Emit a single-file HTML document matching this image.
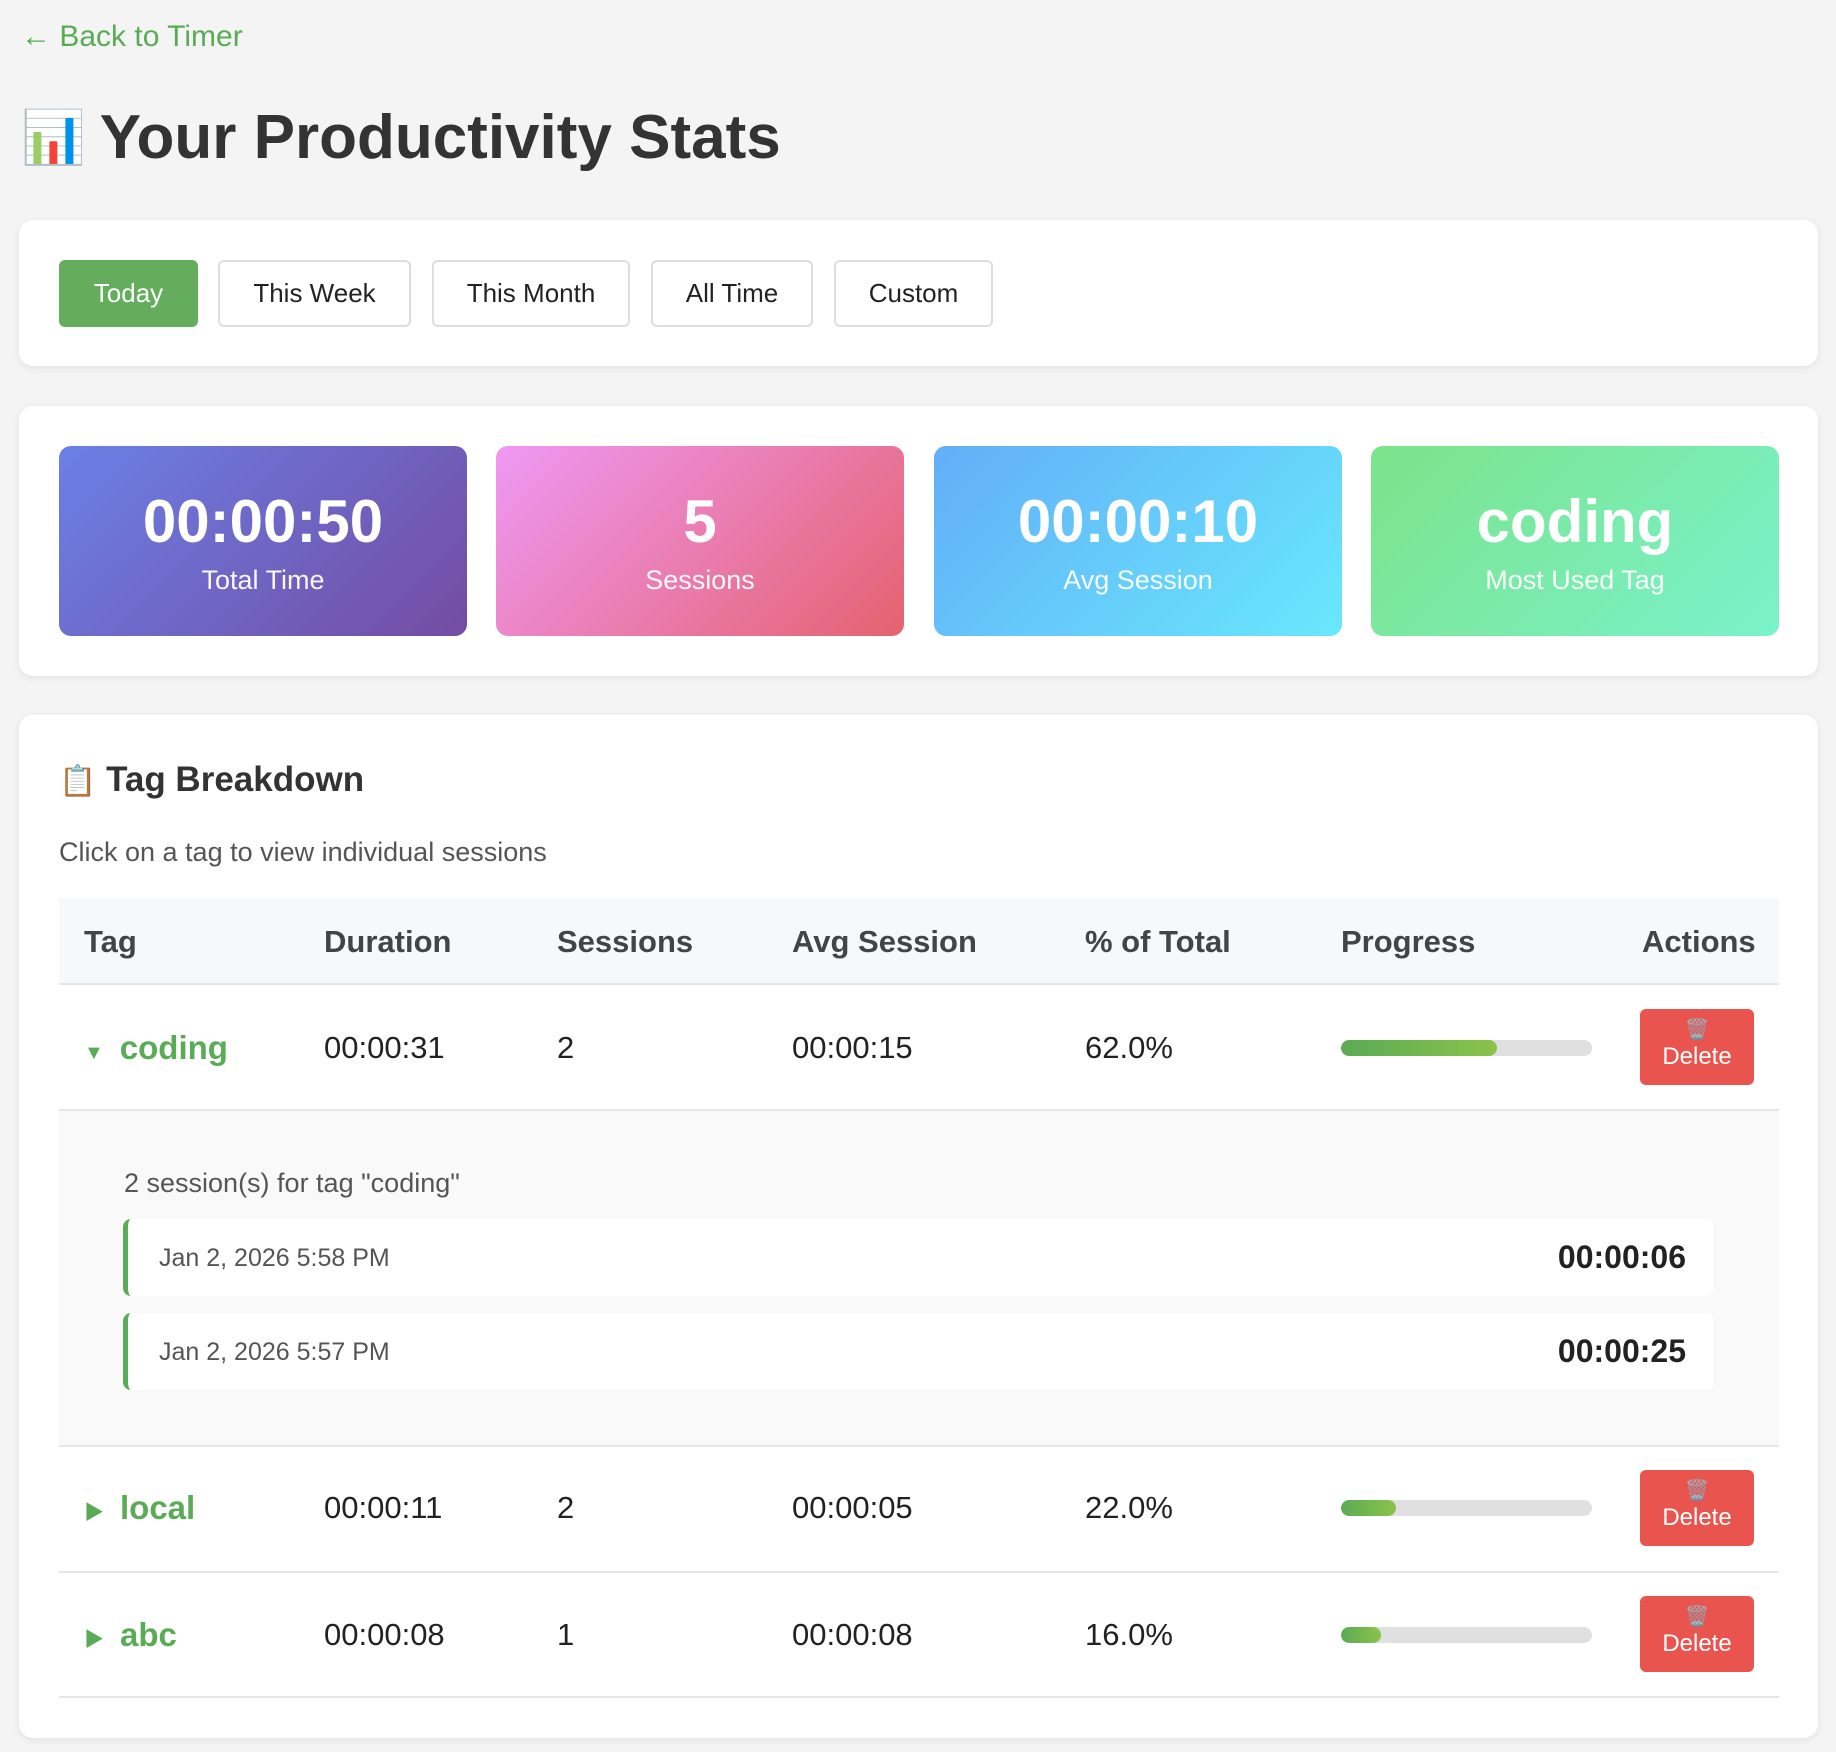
<!DOCTYPE html>
<html><head><meta charset="utf-8"><style>
*{box-sizing:border-box;margin:0;padding:0}
body{width:1836px;height:1752px;background:#f4f4f4;font-family:"Liberation Sans","Noto Sans CJK SC",sans-serif;position:relative;overflow:hidden;color:#333}
.abs{position:absolute}
.back{left:21px;top:20px;font-size:30px;color:#5aab55}
.title{left:21px;top:102px;font-size:62px;font-weight:bold;color:#333;display:flex;align-items:center}
.card{position:absolute;left:19px;width:1799px;background:#fff;border-radius:14px;box-shadow:0 2px 8px rgba(0,0,0,0.08)}
.btn{position:absolute;top:260px;height:67px;border:2px solid #ddd;border-radius:6px;background:#fff;font-size:26px;display:flex;align-items:center;justify-content:center;color:#222}
.btn.on{background:#63ad5c;border-color:#63ad5c;color:#fff}
.stat{position:absolute;top:446px;height:190px;width:408px;border-radius:12px;color:#fff;text-align:center}
.stat .v{position:absolute;left:0;right:0;top:40px;font-size:60px;font-weight:bold;line-height:1.2}
.stat .l{position:absolute;left:0;right:0;top:119px;font-size:27px;opacity:.95}
.th{position:absolute;top:924px;font-size:31px;font-weight:bold;color:#444}
.td{position:absolute;font-size:31px;color:#222;transform:translateY(-50%)}
.tag{color:#5aab55;font-weight:bold;font-size:33px}
.arrow{font-size:20px;color:#5aab55;margin-right:16px}
.bar{position:absolute;left:1341px;width:251px;height:16px;border-radius:8px;background:#e0e0e0;overflow:hidden;transform:translateY(-50%)}
.bar div{height:100%;background:linear-gradient(90deg,#5aab55,#8bc34a);border-radius:8px}
.del{position:absolute;left:1640px;width:114px;height:76px;background:#e9544f;border-radius:6px;color:#fff;font-size:24px;text-align:center;transform:translateY(-50%)}
.del span{display:block;font-size:20px;margin-top:8px;line-height:26px;opacity:.8}
.line{position:absolute;left:59px;width:1720px;height:2px;background:#e6e6e6}
.sess{position:absolute;left:123px;width:1591px;height:77px;background:#fff;border-left:5px solid #5aab55;border-radius:8px}
.sess .d{position:absolute;left:31px;top:25px;font-size:25px;color:#555}
.sess .t{position:absolute;right:28px;top:20px;font-size:32px;font-weight:bold;color:#222}
</style></head><body>
<div class="abs back">← Back to Timer</div>
<div class="abs title"><span style="font-size:52px;margin-right:14px">📊</span>Your Productivity Stats</div>

<div class="card" style="top:220px;height:146px"></div>
<div class="btn on" style="left:59px;width:139px">Today</div>
<div class="btn" style="left:218px;width:193px">This Week</div>
<div class="btn" style="left:432px;width:198px">This Month</div>
<div class="btn" style="left:651px;width:162px">All Time</div>
<div class="btn" style="left:834px;width:159px">Custom</div>

<div class="card" style="top:406px;height:270px"></div>
<div class="stat" style="left:59px;background:linear-gradient(135deg,#6a80e6,#744ca3)"><div class="v">00:00:50</div><div class="l">Total Time</div></div>
<div class="stat" style="left:496px;background:linear-gradient(135deg,#ef98f4,#e5626f)"><div class="v">5</div><div class="l">Sessions</div></div>
<div class="stat" style="left:934px;background:linear-gradient(135deg,#63aef8,#68e8fc)"><div class="v">00:00:10</div><div class="l">Avg Session</div></div>
<div class="stat" style="left:1371px;background:linear-gradient(135deg,#7ce38a,#7af2cb)"><div class="v">coding</div><div class="l">Most Used Tag</div></div>

<div class="card" style="top:715px;height:1023px"></div>
<div class="abs" style="left:59px;top:760px;font-size:35px;font-weight:bold;color:#333"><span style="font-size:30px">📋</span> Tag Breakdown</div>
<div class="abs" style="left:59px;top:837px;font-size:27px;color:#555">Click on a tag to view individual sessions</div>
<div class="abs" style="left:59px;top:898px;width:1720px;height:87px;background:#f7f8f9;border-bottom:2px solid #e6e6e6"></div>
<div class="th" style="left:84px">Tag</div>
<div class="th" style="left:324px">Duration</div>
<div class="th" style="left:557px">Sessions</div>
<div class="th" style="left:792px">Avg Session</div>
<div class="th" style="left:1085px">% of Total</div>
<div class="th" style="left:1341px">Progress</div>
<div class="th" style="left:1642px">Actions</div>

<!-- coding -->
<div class="td tag" style="left:84px;top:1048px"><span class="arrow">▼</span>coding</div>
<div class="td" style="left:324px;top:1048px">00:00:31</div>
<div class="td" style="left:557px;top:1048px">2</div>
<div class="td" style="left:792px;top:1048px">00:00:15</div>
<div class="td" style="left:1085px;top:1048px">62.0%</div>
<div class="bar" style="top:1048px"><div style="width:62%"></div></div>
<div class="del" style="top:1047px"><span>🗑️</span>Delete</div>
<div class="line" style="top:1109px"></div>

<div class="abs" style="left:59px;top:1111px;width:1720px;height:335px;background:#f9f9f9"></div>
<div class="abs" style="left:124px;top:1168px;font-size:27px;color:#555">2 session(s) for tag "coding"</div>
<div class="sess" style="top:1219px"><div class="d">Jan 2, 2026 5:58 PM</div><div class="t">00:00:06</div></div>
<div class="sess" style="top:1313px"><div class="d">Jan 2, 2026 5:57 PM</div><div class="t">00:00:25</div></div>
<div class="line" style="top:1445px"></div>

<!-- local -->
<div class="td tag" style="left:84px;top:1508px"><span class="arrow">▶</span>local</div>
<div class="td" style="left:324px;top:1508px">00:00:11</div>
<div class="td" style="left:557px;top:1508px">2</div>
<div class="td" style="left:792px;top:1508px">00:00:05</div>
<div class="td" style="left:1085px;top:1508px">22.0%</div>
<div class="bar" style="top:1508px"><div style="width:22%"></div></div>
<div class="del" style="top:1508px"><span>🗑️</span>Delete</div>
<div class="line" style="top:1571px"></div>

<!-- abc -->
<div class="td tag" style="left:84px;top:1635px"><span class="arrow">▶</span>abc</div>
<div class="td" style="left:324px;top:1635px">00:00:08</div>
<div class="td" style="left:557px;top:1635px">1</div>
<div class="td" style="left:792px;top:1635px">00:00:08</div>
<div class="td" style="left:1085px;top:1635px">16.0%</div>
<div class="bar" style="top:1635px"><div style="width:16%"></div></div>
<div class="del" style="top:1634px"><span>🗑️</span>Delete</div>
<div class="line" style="top:1696px"></div>
</body></html>
